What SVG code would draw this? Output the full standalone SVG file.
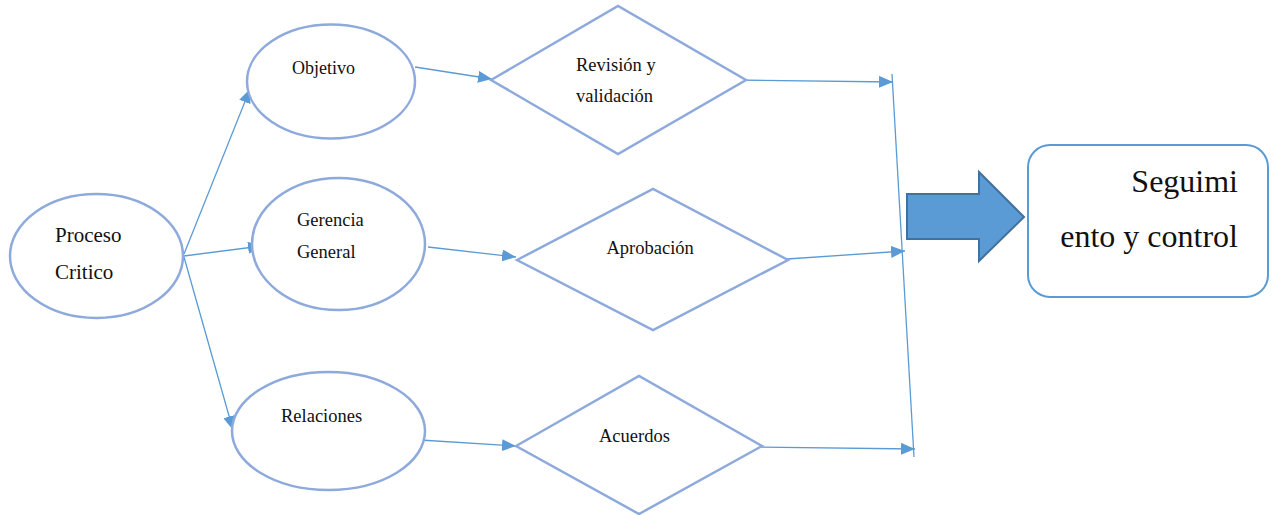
<svg xmlns="http://www.w3.org/2000/svg" width="1274" height="515" viewBox="0 0 1274 515">
<defs>
<style>
.node{fill:#fff;stroke:#8EAADC;stroke-width:2.5}
.conn{fill:none;stroke:#5B9BD5;stroke-width:1.3}
text{font-family:'Liberation Serif','DejaVu Serif',serif;fill:#111}
.t{font-size:18.5px}
.big{font-size:32px}
</style>
<marker id="ah" viewBox="0 0 14 12" refX="14" refY="6" markerWidth="14" markerHeight="12" markerUnits="userSpaceOnUse" orient="auto">
<path d="M0,0 L14,6 L0,12 Z" fill="#5B9BD5"/>
</marker>
</defs>
<rect width="1274" height="515" fill="#fff"/>
<g id="connectors">
<line class="conn" x1="184" y1="254" x2="250" y2="89" marker-end="url(#ah)"/>
<line class="conn" x1="184" y1="256" x2="262" y2="246" marker-end="url(#ah)"/>
<line class="conn" x1="184" y1="257" x2="233" y2="430" marker-end="url(#ah)"/>
<line class="conn" x1="415" y1="67" x2="492" y2="79" marker-end="url(#ah)"/>
<line class="conn" x1="428" y1="247" x2="516" y2="257" marker-end="url(#ah)"/>
<line class="conn" x1="420" y1="440" x2="516" y2="446" marker-end="url(#ah)"/>
<line class="conn" x1="732" y1="80" x2="893" y2="82" marker-end="url(#ah)"/>
<line class="conn" x1="787" y1="259" x2="905" y2="251" marker-end="url(#ah)"/>
<line class="conn" x1="757" y1="447" x2="915" y2="449" marker-end="url(#ah)"/>
<line class="conn" x1="892" y1="74" x2="914" y2="457"/>
</g>
<g id="proceso">
<ellipse class="node" cx="96.5" cy="256" rx="86.5" ry="62"/>
<text class="t" x="55" y="242" font-family="Liberation Serif, serif" style="font-size:21px">Proceso</text>
<text class="t" x="55" y="279" font-family="Liberation Serif, serif" style="font-size:21px">Critico</text>
</g>
<g id="objetivo">
<ellipse class="node" cx="331" cy="81.5" rx="84" ry="57"/>
<text class="t" x="292" y="74" style="font-size:18px">Objetivo</text>
</g>
<g id="gerencia">
<ellipse class="node" cx="338.5" cy="244" rx="86.5" ry="66"/>
<text class="t" x="297" y="226">Gerencia</text>
<text class="t" x="297" y="258">General</text>
</g>
<g id="relaciones">
<ellipse class="node" cx="328.5" cy="431" rx="96.5" ry="59"/>
<text class="t" x="281" y="422">Relaciones</text>
</g>
<g id="revision">
<polygon class="node" points="491,80 618,6 746,80 618,154"/>
<text class="t" x="576" y="71">Revisión y</text>
<text class="t" x="576" y="102">validación</text>
</g>
<g id="aprobacion">
<polygon class="node" points="517,260 653,189 788,260 653,330"/>
<text class="t" x="606.5" y="254">Aprobación</text>
</g>
<g id="acuerdos">
<polygon class="node" points="516,446 639,376 762,446 639,514"/>
<text class="t" x="599" y="442">Acuerdos</text>
</g>
<g id="big-arrow">
<polygon points="907,194 979,194 979,172 1024,217 979,261 979,239 907,239" fill="#5B9BD5" stroke="#41719C" stroke-width="2"/>
</g>
<g id="seguimiento">
<rect x="1028" y="145" width="240" height="152" rx="22" ry="22" fill="#fff" stroke="#5B9BD5" stroke-width="2"/>
<text class="big" x="1238" y="192" text-anchor="end">Seguimi</text>
<text class="big" x="1238" y="247" text-anchor="end">ento y control</text>
</g>
</svg>
